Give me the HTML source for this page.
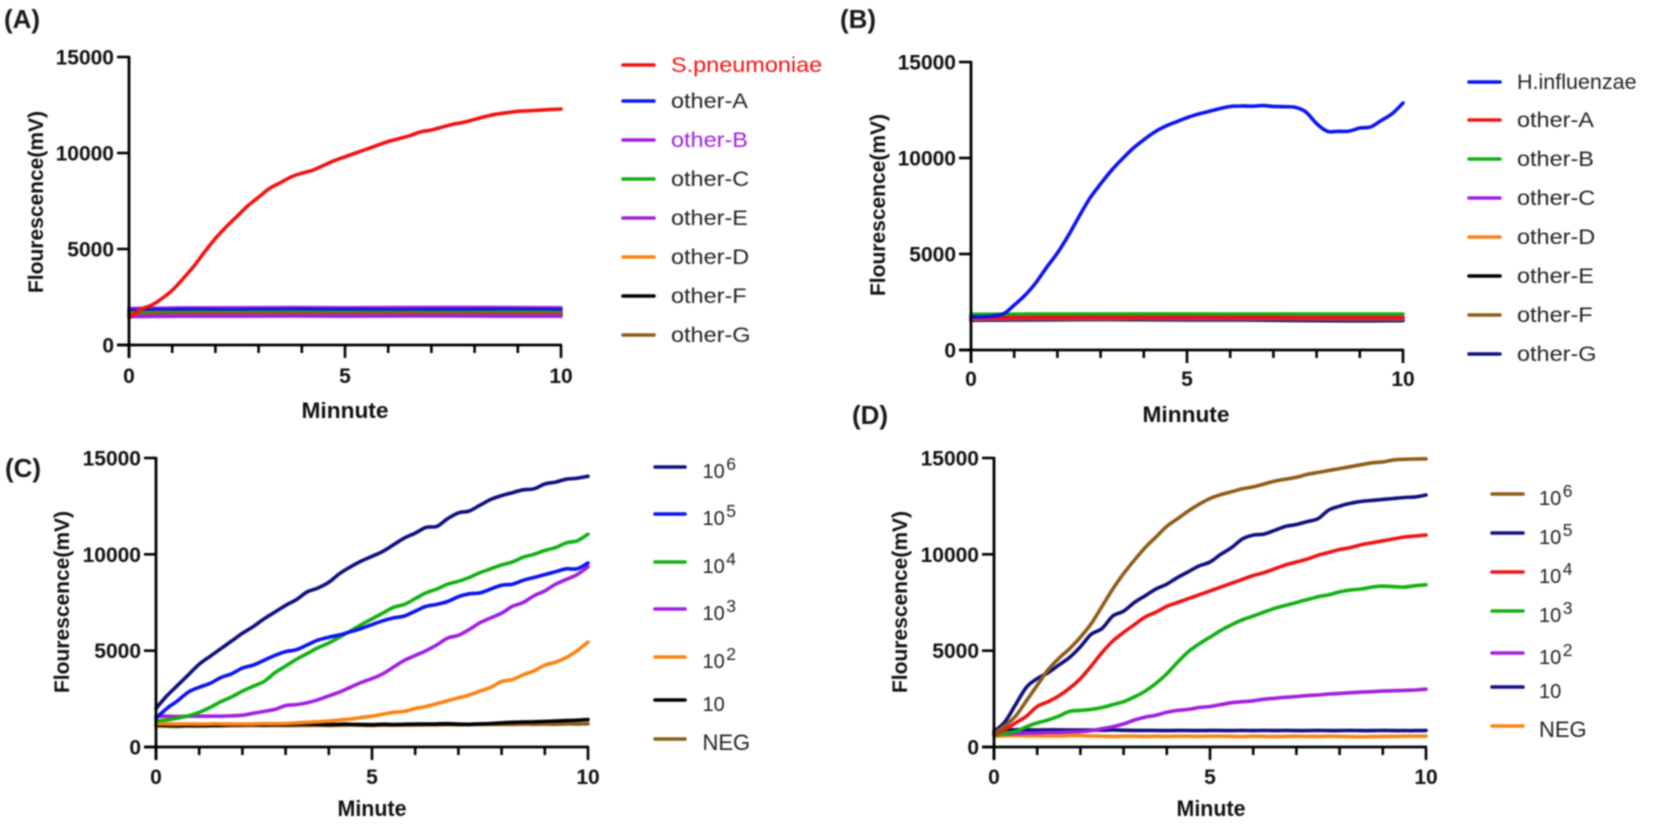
<!DOCTYPE html>
<html lang="en">
<head>
<meta charset="utf-8">
<title>Fluorescence curves</title>
<style>
html,body{margin:0;padding:0;background:#fff;width:1654px;height:827px;overflow:hidden}
svg{display:block;font-family:"Liberation Sans",Arial,sans-serif}
#figure-content{filter:blur(0.7px)}
</style>
</head>
<body>
<svg id="figure" width="1654" height="827" viewBox="0 0 1654 827" xmlns="http://www.w3.org/2000/svg">
<g id="figure-content"></g>
</svg>
<script>
var xTicks = [0,1,2,3,4,5,6,7,8,9,10];
var xLabels = ['0','5','10'];
var yTicks = [0,5000,10000,15000];

// Panel A
var aSpn  = [1400,1850,2050,2400,2850,3450,4100,4850,5550,6150,6700,7250,7700,8150,8450,8750,8950,9100,9350,9600,9800,10000,10200,10400,10600,10750,10900,11100,11200,11350,11500,11600,11750,11900,12020,12100,12170,12200,12230,12260,12290];
var aOtherA = [1800,1840,1830,1850,1840,1830,1840,1850,1830];
var aOtherB = [1900,1930,1940,1950,1940,1950,1960,1950,1940];
var aOtherC = [1680,1700,1700,1710,1700,1700,1700,1710,1700];
var aOtherE = [1480,1500,1500,1510,1500,1510,1510,1500,1500];
var aOtherD = [1600,1620,1630,1620,1630,1630,1620,1630,1630];
var aOtherF = [1580,1600,1600,1610,1600,1610,1600,1610,1600];
var aOtherG = [1620,1640,1640,1650,1640,1660,1650,1650,1650];

// Panel B
var bHin  = [1730,1730,1770,1880,2340,2850,3500,4300,5050,5950,6950,7900,8650,9350,9950,10500,10950,11350,11650,11880,12100,12280,12420,12570,12680,12710,12700,12730,12690,12670,12640,12400,11790,11390,11390,11400,11560,11620,11960,12310,12860];
var bOtherA = [1680,1700,1710,1710,1720,1710,1700,1700,1700];
var bOtherB = [1860,1870,1870,1880,1880,1870,1870,1870,1870];
var bOtherC = [1640,1650,1660,1660,1650,1650,1640,1640,1640];
var bOtherD = [1620,1640,1640,1650,1640,1640,1640,1630,1630];
var bOtherE = [1580,1590,1600,1600,1590,1590,1570,1560,1570];
var bOtherF = [1600,1620,1620,1630,1620,1620,1610,1600,1600];
var bOtherG = [1550,1570,1580,1580,1570,1560,1540,1520,1530];

// Panel C
var c1e6 = [2000,2650,3200,3750,4300,4700,5100,5500,5900,6250,6650,7000,7350,7650,8050,8250,8550,9000,9350,9650,9900,10150,10500,10850,11100,11400,11450,11850,12150,12250,12550,12850,13050,13200,13350,13400,13650,13750,13900,13950,14050];
var c1e5 = [1500,2000,2400,2850,3100,3300,3600,3800,4100,4250,4500,4750,4950,5050,5300,5550,5700,5820,5980,6150,6350,6550,6700,6800,7050,7300,7400,7550,7800,7950,8000,8200,8400,8450,8650,8800,8950,9100,9250,9250,9550];
var c1e4 = [1350,1400,1500,1620,1800,2050,2350,2600,2900,3150,3400,3850,4200,4550,4850,5150,5400,5700,6020,6350,6650,6950,7250,7400,7700,8000,8200,8450,8600,8800,9050,9250,9450,9600,9850,10000,10200,10350,10600,10700,11050];
var c1e3 = [1600,1600,1580,1600,1600,1600,1600,1620,1650,1750,1850,1950,2150,2200,2300,2450,2650,2850,3100,3350,3550,3800,4150,4500,4750,5000,5300,5650,5800,6100,6450,6700,6950,7300,7500,7850,8100,8450,8700,8950,9350];
var c1e2 = [1200,1200,1190,1200,1190,1200,1200,1190,1190,1200,1210,1210,1220,1250,1280,1310,1350,1400,1450,1530,1600,1700,1800,1850,2000,2100,2250,2400,2550,2700,2900,3100,3400,3500,3750,3950,4250,4400,4650,5000,5450];
var c10  = [1150,1130,1120,1120,1130,1120,1130,1150,1160,1170,1160,1170,1180,1190,1200,1180,1170,1180,1180,1170,1160,1180,1170,1180,1190,1190,1200,1210,1190,1180,1200,1220,1250,1280,1290,1310,1330,1350,1370,1390,1420];
var cNeg = [1100,1080,1070,1090,1080,1100,1100,1110,1110,1120,1110,1120,1110,1120,1120,1130,1120,1130,1140,1130,1120,1140,1130,1140,1140,1150,1150,1160,1150,1160,1170,1170,1180,1170,1190,1180,1190,1180,1200,1190,1210];

// Panel D
var d1e6 = [700,1100,1600,2400,3200,4000,4600,5100,5700,6400,7300,8200,9000,9700,10350,10900,11450,11850,12250,12600,12900,13100,13250,13400,13500,13650,13800,13900,14000,14150,14250,14350,14450,14550,14650,14750,14800,14900,14930,14950,14960];
var d1e5 = [800,1300,2200,3100,3550,3850,4250,4650,5200,5850,6150,6800,7050,7500,7850,8200,8450,8800,9100,9400,9600,10000,10350,10800,11000,11050,11250,11450,11550,11700,11850,12300,12500,12650,12750,12800,12850,12900,12950,12980,13080];
var d1e4 = [650,900,1250,1600,2100,2350,2650,3050,3550,4200,4900,5500,5950,6350,6750,7000,7300,7500,7700,7900,8100,8300,8500,8700,8900,9050,9250,9450,9600,9750,9950,10100,10250,10350,10500,10600,10700,10800,10900,10950,11000];
var d1e3 = [600,700,800,1050,1250,1400,1600,1850,1900,1950,2050,2200,2350,2600,2900,3300,3800,4400,4950,5350,5700,6050,6350,6600,6800,7000,7200,7350,7500,7650,7800,7900,8050,8150,8200,8300,8350,8320,8300,8370,8420];
var d1e2 = [650,680,700,720,730,750,760,780,800,850,950,1050,1200,1400,1550,1650,1800,1900,1950,2050,2100,2200,2300,2350,2400,2480,2530,2580,2620,2670,2700,2750,2780,2820,2850,2870,2900,2920,2940,2960,3000];
var d10  = [800,880,900,890,880,890,890,880,880,880,870,880,870,860,860,860,850,860,860,850,860,860,850,860,850,860,850,860,850,850,860,850,850,860,850,850,860,850,850,850,860];
var dNeg = [560,580,590,580,580,570,570,590,590,570,560,550,560,560,550,560,550,560,560,550,560,560,550,540,560,550,540,550,560,550,550,560,550,540,530,540,550,550,560,560,560];

var RED='#f01212', BLUE='#0c14ee', PURPLE='#a11fe0', GREEN='#12b012', ORANGE='#fb8314', BLACK='#000000', BROWN='#8e5c18', NAVY='#10107e';

var panels = [
 {id:'a', tag:'(A)', tagX:4, tagY:28, x0:129, x1:561, y0:345, y1:57, yTitleX:36, yTitleY:202, xTitle:'Minnute', xTitleLen:87, xTitleX:345, xTitleY:418, tickY:383,
  legTextX:671, legRows:[65,101,140,179,218,257,296,335], legLineX0:623, legLineX1:654,
  legend:[['S.pneumoniae','',RED,RED],['other-A','',BLUE,'#222'],['other-B','',PURPLE,PURPLE],['other-C','',GREEN,'#222'],['other-E','',PURPLE,'#222'],['other-D','',ORANGE,'#222'],['other-F','',BLACK,'#222'],['other-G','',BROWN,'#222']],
  drawOrder:[2,1,3,5,6,7,4,0], data:[aSpn,aOtherA,aOtherB,aOtherC,aOtherE,aOtherD,aOtherF,aOtherG]},
 {id:'b', tag:'(B)', tagX:840, tagY:28, x0:971, x1:1403, y0:350, y1:62, yTitleX:878, yTitleY:205, xTitle:'Minnute', xTitleLen:87, xTitleX:1186, xTitleY:422, tickY:386,
  legLineX0:1469, legLineX1:1500, legTextX:1517, legRows:[82,120,159,198,237,276,315,354],
  legend:[['H.influenzae','',BLUE,'#222'],['other-A','',RED,'#222'],['other-B','',GREEN,'#222'],['other-C','',PURPLE,'#222'],['other-D','',ORANGE,'#222'],['other-E','',BLACK,'#222'],['other-F','',BROWN,'#222'],['other-G','',NAVY,'#222']],
  drawOrder:[7,5,6,4,3,2,1,0], data:[bHin,bOtherA,bOtherB,bOtherC,bOtherD,bOtherE,bOtherF,bOtherG]},
 {id:'c', tag:'(C)', tagX:5, tagY:477, x0:156, x1:588, y0:747, y1:458, yTitleX:62, yTitleY:602, xTitle:'Minute', xTitleLen:69, xTitleX:372, xTitleY:816, tickY:784,
  legLineX0:655, legLineX1:685, legTextX:702.5, legRows:[467,514,562,609,657,700,739],
  legend:[['10','6',NAVY,'#222'],['10','5',BLUE,'#222'],['10','4',GREEN,'#222'],['10','3',PURPLE,'#222'],['10','2',ORANGE,'#222'],['10','',BLACK,'#222'],['NEG','',BROWN,'#222']],
  drawOrder:[6,5,4,3,2,1,0], data:[c1e6,c1e5,c1e4,c1e3,c1e2,c10,cNeg]},
 {id:'d', tag:'(D)', tagX:852, tagY:424, x0:994, x1:1426, y0:747, y1:458, yTitleX:900, yTitleY:602, xTitle:'Minute', xTitleLen:69, xTitleX:1211, xTitleY:816, tickY:784,
  legLineX0:1492, legLineX1:1523, legTextX:1539, legRows:[494,533,572,611,653,687,726],
  legend:[['10','6',BROWN,'#222'],['10','5',NAVY,'#222'],['10','4',RED,'#222'],['10','3',GREEN,'#222'],['10','2',PURPLE,'#222'],['10','',NAVY,'#222'],['NEG','',ORANGE,'#222']],
  drawOrder:[6,5,4,3,2,1,0], data:[d1e6,d1e5,d1e4,d1e3,d1e2,d10,dNeg]}
];

var SVGNS = 'http://www.w3.org/2000/svg';
var root = document.getElementById('figure-content');

function make(tag, parent) {
  var el = document.createElementNS(SVGNS, tag);
  parent.appendChild(el);
  return el;
}
function seg(parent, x1, y1, x2, y2, w, color) {
  var l = make('line', parent);
  l.setAttribute('x1', x1);
  l.setAttribute('y1', y1);
  l.setAttribute('x2', x2);
  l.setAttribute('y2', y2);
  l.setAttribute('stroke', color);
  l.setAttribute('stroke-width', w);
  return l;
}
function label(parent, str, x, y, size, weight, color, anchor) {
  var t = make('text', parent);
  t.setAttribute('x', x);
  t.setAttribute('y', y);
  t.setAttribute('font-size', size);
  t.setAttribute('font-weight', weight);
  t.setAttribute('fill', color);
  t.setAttribute('text-anchor', anchor);
  t.textContent = str;
  return t;
}
// Smooth curve (Catmull-Rom to Bezier) through the plotted points
function smoothPath(pts) {
  var d = 'M' + pts[0][0].toFixed(1) + ' ' + pts[0][1].toFixed(1);
  for (var i = 0; i < pts.length - 1; i++) {
    var p0 = pts[Math.max(0, i - 1)], p1 = pts[i], p2 = pts[i + 1], p3 = pts[Math.min(pts.length - 1, i + 2)];
    var c1x = p1[0] + (p2[0] - p0[0]) / 6, c1y = p1[1] + (p2[1] - p0[1]) / 6;
    var c2x = p2[0] - (p3[0] - p1[0]) / 6, c2y = p2[1] - (p3[1] - p1[1]) / 6;
    d += 'C' + c1x.toFixed(1) + ' ' + c1y.toFixed(1) + ' ' + c2x.toFixed(1) + ' ' + c2y.toFixed(1) + ' ' + p2[0].toFixed(1) + ' ' + p2[1].toFixed(1);
  }
  return d;
}

panels.forEach(function (p) {
  var sx = function (v) { return p.x0 + (p.x1 - p.x0) * v / 10; };
  var sy = function (v) { return p.y0 + (p.y1 - p.y0) * v / 15000; };

  var g = make('g', root);
  
  

  var tag = label(g, p.tag, p.tagX, p.tagY, 26, 'bold', '#1a1a1a', 'start');
  
  

  // series, drawn under axes
  var lines = make('g', g);
  
  
  p.drawOrder.forEach(function (k) {
    var vals = p.data[k];
    var pts = vals.map(function (v, i) {
      var t = i * 10 / (vals.length - 1);
      return [sx(t), sy(v)];
    });
    var path = make('path', lines);
    path.setAttribute('d', smoothPath(pts));
    path.setAttribute('fill', 'none');
    path.setAttribute('stroke', p.legend[k][2]);
    path.setAttribute('stroke-width', '3.6');
    path.setAttribute('stroke-linejoin', 'round');
    path.setAttribute('stroke-linecap', 'round');
    
    
  });

  // axes
  var axes = make('g', g);
  
  
  var xAxis = seg(axes, p.x0 - 12, p.y0, p.x1 + 1, p.y0, 2.8, '#000');
  
  
  var yAxis = seg(axes, p.x0, p.y1 - 1, p.x0, p.y0 + 13, 2.8, '#000');
  
  

  xTicks.forEach(function (v) {
    var major = v % 5 === 0;
    var tick = seg(axes, sx(v), p.y0, sx(v), p.y0 + (major ? 13 : 8), 2.6, '#000');
    
    
  });
  xLabels.forEach(function (s) {
    var t = label(axes, s, sx(+s), p.tickY, 21, 'bold', '#111', 'middle');
    
    
  });
  yTicks.forEach(function (v) {
    var tick = seg(axes, p.x0 - 12, sy(v), p.x0, sy(v), 2.6, '#000');
    
    
    var t = label(axes, String(v), p.x0 - 15, sy(v) + 7.5, 21, 'bold', '#111', 'end');
    
    
  });

  var yt = label(axes, 'Flourescence(mV)', 0, 0, 21, 'bold', '#111', 'middle');
  yt.setAttribute('transform', 'translate(' + (p.yTitleX + 7) + ' ' + p.yTitleY + ') rotate(-90)');
  
  

  var xt = label(axes, p.xTitle, p.xTitleX, p.xTitleY, 22, 'bold', '#111', 'middle');
  xt.setAttribute('textLength', p.xTitleLen);
  xt.setAttribute('lengthAdjust', 'spacingAndGlyphs');
  
  

  // legend
  var leg = make('g', g);
  
  
  p.legend.forEach(function (e, i) {
    var row = p.legRows[i];
    var entry = make('g', leg);
    
    
    var sw = seg(entry, p.legLineX0, row, p.legLineX1, row, 3.6, e[2]);
    sw.setAttribute('stroke-linecap', 'round');
    
    
    var isPower = e[0] === '10' || e[0] === 'NEG';
    var size = e[0] === 'NEG' ? 22 : (isPower ? 20 : 21.5);
    var t = label(entry, e[0], p.legTextX, row + (isPower ? 11 : 7), size, 'normal', e[3], 'start');
    
    
    if (e[1]) {
      var sup = make('tspan', t);
      sup.setAttribute('dy', '-8');
      sup.setAttribute('dx', '1.5');
      sup.setAttribute('font-size', '17.5');
      sup.textContent = e[1];
    }
    if (e[0].indexOf('other-') === 0 || e[0] === 'S.pneumoniae') {
      t.setAttribute('textLength', (t.getComputedTextLength() * 1.09).toFixed(1));
      t.setAttribute('lengthAdjust', 'spacingAndGlyphs');
    }
  });
});
</script>
</body>
</html>
